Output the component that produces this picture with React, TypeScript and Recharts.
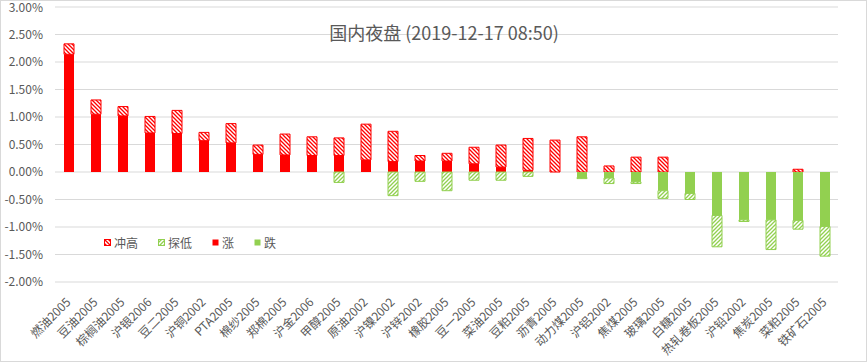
import React from 'react';
import { BarChart, Bar, XAxis, YAxis, CartesianGrid, Legend } from 'recharts';

const categories = [
  '燃油2005', '豆油2005', '棕榈油2005', '沪银2006', '豆二2005', '沪铜2002', 'PTA2005', '棉纱2005',
  '郑棉2005', '沪金2006', '甲醇2005', '原油2002', '沪镍2002', '沪锌2002', '橡胶2005', '豆一2005',
  '菜油2005', '豆粕2005', '沥青2005', '动力煤2005', '沪铝2002', '焦煤2005', '玻璃2005', '白糖2005',
  '热轧卷板2005', '沪铅2002', '焦炭2005', '菜粕2005', '铁矿石2005',
];
// percent values
const closeVals = [
  2.14, 1.05, 1.02, 0.71, 0.70, 0.57, 0.53, 0.32,
  0.31, 0.30, 0.30, 0.22, 0.19, 0.20, 0.20, 0.15,
  0.09, 0.03, 0, -0.10, -0.11, -0.18, -0.34, -0.39,
  -0.79, -0.87, -0.87, -0.88, -0.99,
];
const highVals = [
  2.33, 1.31, 1.19, 1.01, 1.12, 0.72, 0.88, 0.49,
  0.69, 0.64, 0.62, 0.87, 0.74, 0.30, 0.34, 0.45,
  0.49, 0.61, 0.58, 0.64, 0.11, 0.27, 0.27, 0,
  0, 0, 0, 0.05, 0,
];
const lowVals = [
  0, 0, 0, 0, 0, 0, 0, 0,
  0, 0, -0.19, 0, -0.43, -0.17, -0.34, -0.15,
  -0.15, -0.08, 0, -0.12, -0.21, -0.21, -0.48, -0.50,
  -1.36, -0.90, -1.41, -1.04, -1.53,
];
const yTicks = [-2, -1.5, -1, -0.5, 0, 0.5, 1, 1.5, 2, 2.5, 3];
const seriesNames = { up: '冲高', down: '探低', rise: '涨', fall: '跌' };
const titleText = '国内夜盘 (2019-12-17 08:50)';

const RED = '#ff0000';
const GREEN = '#92d050';
const TEXT = '#595959';
const GRID = '#d9d9d9';
const FONT = '"Noto Sans CJK SC", "Noto Sans", sans-serif';

const data = categories.map((name, i) => {
  const c = closeVals[i];
  const h = highVals[i];
  const l = lowVals[i];
  return {
    name,
    rise: c > 0 ? c : 0,
    up: +(h - Math.max(c, 0)).toFixed(4),
    fall: c < 0 ? c : 0,
    down: +(l - Math.min(c, 0)).toFixed(4),
  };
});

const PatternDefs = ({ prefix }: { prefix: string }) => (
  <defs>
    <pattern id={`${prefix}Red`} width="4" height="4" patternUnits="userSpaceOnUse">
      <rect width="4" height="4" fill="#fff" />
      <path d="M-1,3 l2,2 M0,0 l4,4 M3,-1 l2,2" stroke={RED} strokeWidth="1.3" />
    </pattern>
    <pattern id={`${prefix}Green`} width="4" height="4" patternUnits="userSpaceOnUse">
      <rect width="4" height="4" fill="#fff" />
      <path d="M-1,1 l2,-2 M0,4 l4,-4 M3,5 l2,-2" stroke={GREEN} strokeWidth="1.3" />
    </pattern>
  </defs>
);

const XTick = (props: any) => {
  const { x, y, payload } = props;
  return (
    <g transform={`translate(${x + 3},${y + 21})`}>
      <text transform="rotate(-45)" textAnchor="end" fill={TEXT} fontSize={12} fontFamily={FONT}>
        {payload.value}
      </text>
    </g>
  );
};

const LegendContent = () => {
  const items = [
    { label: seriesNames.up, fill: 'url(#lgRed)', stroke: RED },
    { label: seriesNames.down, fill: 'url(#lgGreen)', stroke: GREEN },
    { label: seriesNames.rise, fill: RED, stroke: 'none' },
    { label: seriesNames.fall, fill: GREEN, stroke: 'none' },
  ];
  return (
    <div style={{ display: 'flex', alignItems: 'center', fontFamily: FONT, fontSize: 12, color: TEXT, whiteSpace: 'nowrap' }}>
      <svg width={0} height={0} style={{ position: 'absolute' }}>
        <PatternDefs prefix="lg" />
      </svg>
      {items.map((it) => (
        <div key={it.label} style={{ display: 'flex', alignItems: 'center', marginRight: 20 }}>
          <svg width={7} height={7} style={{ marginRight: 3 }}>
            <rect x={0.5} y={0.5} width={6} height={6} fill={it.fill} stroke={it.stroke} strokeWidth={1} />
          </svg>
          <span>{it.label}</span>
        </div>
      ))}
    </div>
  );
};

export default function App() {
  return (
    <div style={{ position: 'absolute', left: 0, top: 0, width: 867, height: 362, background: '#fff' }}>
      <BarChart
        width={867}
        height={362}
        data={data}
        stackOffset="sign"
        barSize={10}
        margin={{ top: 7, right: 29, bottom: 0, left: 0 }}
      >
        <PatternDefs prefix="hatch" />
        <CartesianGrid vertical={false} stroke={GRID} />
        <XAxis
          dataKey="name"
          interval={0}
          axisLine={false}
          tickLine={false}
          tickSize={0}
          tickMargin={0}
          height={80}
          tick={<XTick />}
        />
        <YAxis
          type="number"
          domain={[-2, 3]}
          ticks={yTicks}
          tickFormatter={(v: number) => `${v.toFixed(2)}%`}
          axisLine={false}
          tickLine={false}
          tickSize={0}
          tickMargin={12}
          width={55}
          tick={{ fill: TEXT, fontSize: 12, fontFamily: FONT }}
        />
        <Legend
          layout="horizontal"
          verticalAlign="middle"
          align="center"
          content={<LegendContent />}
          wrapperStyle={{ left: 104, top: 234, width: 'auto' }}
        />
        <Bar dataKey="rise" name={seriesNames.rise} stackId="s" fill={RED} isAnimationActive={false} />
        <Bar dataKey="up" name={seriesNames.up} stackId="s" fill="url(#hatchRed)" stroke={RED} strokeWidth={1} isAnimationActive={false} />
        <Bar dataKey="fall" name={seriesNames.fall} stackId="s" fill={GREEN} isAnimationActive={false} />
        <Bar dataKey="down" name={seriesNames.down} stackId="s" fill="url(#hatchGreen)" stroke={GREEN} strokeWidth={1} isAnimationActive={false} />
      </BarChart>
      <div
        style={{
          position: 'absolute',
          left: 0,
          top: 20,
          width: 888,
          textAlign: 'center',
          fontFamily: FONT,
          fontSize: 18,
          color: TEXT,
          lineHeight: '24px',
          pointerEvents: 'none',
          whiteSpace: 'nowrap',
        }}
      >
        {titleText}
      </div>
      <div
        style={{
          position: 'absolute',
          left: 0,
          top: 0,
          width: 867,
          height: 362,
          boxSizing: 'border-box',
          border: `1px solid ${GRID}`,
          pointerEvents: 'none',
        }}
      />
    </div>
  );
}
